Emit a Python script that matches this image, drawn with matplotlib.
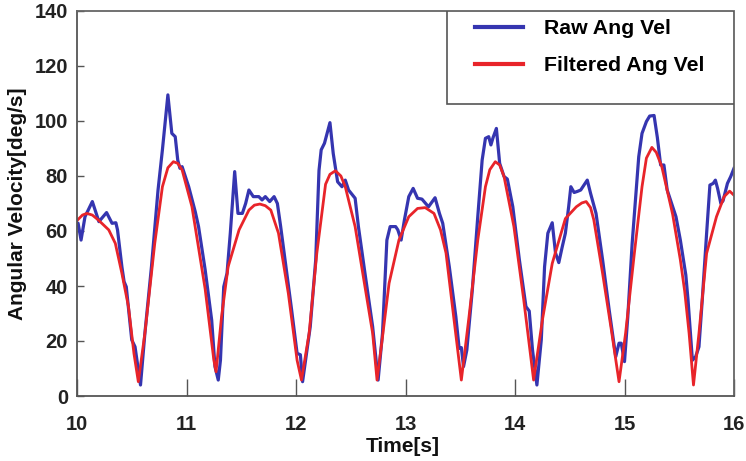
import matplotlib
matplotlib.use("Agg")
import matplotlib.pyplot as plt
from matplotlib.patches import Rectangle

# ---- data ----
raw_t = [10.00, 10.01, 10.037, 10.073, 10.14, 10.20, 10.27, 10.32, 10.355, 10.37,
         10.41, 10.43, 10.45, 10.50, 10.53, 10.58, 10.62, 10.68, 10.74, 10.78,
         10.83, 10.866, 10.897, 10.92, 10.94, 10.96, 11.02, 11.08, 11.11, 11.17,
         11.23, 11.26, 11.29, 11.31, 11.34, 11.37, 11.40, 11.44, 11.47, 11.51,
         11.54, 11.57, 11.61, 11.66, 11.69, 11.72, 11.76, 11.80, 11.83, 11.86,
         11.90, 11.96, 12.01, 12.04, 12.06, 12.10, 12.13, 12.18, 12.21, 12.23,
         12.26, 12.31, 12.34, 12.38, 12.42, 12.45, 12.48, 12.54, 12.57, 12.63,
         12.70, 12.75, 12.79, 12.83, 12.86, 12.91, 12.93, 12.96, 12.99, 13.03,
         13.07, 13.11, 13.15, 13.21, 13.27, 13.31, 13.34, 13.40, 13.46, 13.49,
         13.51, 13.53, 13.56, 13.61, 13.66, 13.70, 13.73, 13.76, 13.78, 13.80,
         13.83, 13.86, 13.90, 13.93, 13.98, 14.04, 14.10, 14.13, 14.16, 14.20,
         14.24, 14.27, 14.30, 14.34, 14.37, 14.40, 14.43, 14.46, 14.49, 14.51,
         14.54, 14.57, 14.60, 14.62, 14.66, 14.69, 14.74, 14.80, 14.86, 14.92,
         14.95, 14.97, 15.00, 15.03, 15.07, 15.13, 15.16, 15.20, 15.23, 15.27,
         15.30, 15.33, 15.36, 15.39, 15.44, 15.47, 15.51, 15.56, 15.58, 15.62,
         15.65, 15.68, 15.71, 15.75, 15.78, 15.81, 15.83, 15.85, 15.88, 15.90,
         15.94, 15.97, 16.00]
raw_v = [63.0, 62.8, 56.7, 65.2, 70.7, 63.4, 66.7, 62.8, 63.0, 60.4,
         47.0, 41.6, 39.7, 20.4, 17.9, 4.0, 22.8, 47.0, 74.9, 89.5,
         109.5, 95.5, 94.3, 85.8, 82.8, 83.4, 76.1, 67.0, 61.6, 46.0,
         27.6, 10.7, 5.8, 13.0, 39.7, 44.6, 59.2, 81.6, 66.4, 66.4,
         70.0, 74.9, 72.5, 72.5, 71.3, 72.5, 70.7, 72.5, 70.0, 61.6,
         49.5, 31.3, 15.5, 15.0, 5.2, 16.7, 25.2, 49.5, 82.0, 89.5,
         91.9, 99.4, 88.2, 77.9, 76.1, 78.5, 74.9, 71.9, 61.6, 44.6,
         25.2, 5.8, 22.8, 56.7, 61.6, 61.6, 60.4, 56.7, 64.0, 72.5,
         75.5, 71.9, 71.6, 68.8, 72.1, 66.4, 62.8, 47.0, 28.8, 17.3,
         17.6, 10.7, 16.7, 38.5, 65.2, 85.8, 93.7, 94.3, 91.3, 94.0,
         97.3, 84.6, 79.8, 78.9, 68.8, 49.5, 32.5, 30.9, 16.7, 4.0,
         20.4, 47.0, 59.2, 63.0, 52.0, 48.5, 54.0, 59.2, 68.8, 76.1,
         74.0, 74.4, 74.9, 76.1, 78.5, 73.7, 66.4, 49.5, 31.3, 14.3,
         19.2, 19.2, 12.5, 28.8, 55.5, 87.0, 95.5, 99.8, 101.8, 102.0,
         94.0, 84.0, 84.0, 74.9, 68.8, 65.2, 56.7, 44.0, 35.0, 13.0,
         14.3, 17.9, 34.9, 59.2, 76.7, 77.3, 78.5, 75.5, 70.0, 71.0,
         77.3, 79.8, 82.8]

filt_t = [10.00, 10.05, 10.09, 10.14, 10.195, 10.29, 10.35, 10.41, 10.47, 10.52,
          10.56, 10.62, 10.71, 10.78, 10.83, 10.88, 10.92, 10.96, 11.05, 11.17,
          11.25, 11.27, 11.32, 11.38, 11.48, 11.57, 11.62, 11.67, 11.72, 11.77,
          11.84, 11.93, 12.01, 12.05, 12.12, 12.19, 12.27, 12.31, 12.36, 12.41,
          12.45, 12.54, 12.63, 12.70, 12.74, 12.79, 12.85, 12.94, 13.03, 13.11,
          13.18, 13.26, 13.32, 13.37, 13.44, 13.51, 13.58, 13.66, 13.73, 13.77,
          13.82, 13.86, 13.90, 13.99, 14.08, 14.17, 14.25, 14.34, 14.46, 14.56,
          14.61, 14.65, 14.69, 14.72, 14.80, 14.88, 14.95, 15.01, 15.09, 15.16,
          15.20, 15.25, 15.29, 15.34, 15.44, 15.51, 15.55, 15.59, 15.63, 15.68,
          15.75, 15.84, 15.91, 15.96, 16.00]
filt_v = [63.8, 65.8, 66.4, 65.8, 64.0, 60.4, 55.5, 44.6, 32.5, 15.5,
          5.2, 22.8, 55.5, 76.1, 83.0, 85.2, 84.6, 82.2, 68.8, 39.0,
          13.0, 8.8, 28.8, 47.0, 60.4, 67.6, 69.4, 69.8, 69.2, 67.6,
          59.2, 37.3, 13.0, 5.8, 22.8, 51.9, 77.0, 80.6, 81.9, 80.0,
          76.1, 61.6, 39.7, 22.8, 5.8, 21.5, 41.0, 56.7, 65.2, 68.2,
          68.5, 66.4, 60.4, 52.0, 28.8, 5.8, 28.8, 56.7, 76.1, 82.3,
          85.2, 84.0, 79.8, 61.6, 34.9, 5.8, 27.6, 48.2, 64.5, 68.8,
          70.2, 70.7, 68.5, 64.0, 44.6, 24.0, 5.2, 22.8, 51.9, 76.1,
          86.5, 90.4, 88.6, 83.5, 66.0, 49.5, 38.0, 22.8, 4.0, 22.8,
          51.9, 65.2, 72.5, 74.5, 73.0]

x_ticks = [10, 11, 12, 13, 14, 15, 16]
y_ticks = [0, 20, 40, 60, 80, 100, 120, 140]
series_labels = ["Raw Ang Vel", "Filtered Ang Vel"]
x_label = "Time[s]"
y_label = "Angular Velocity[deg/s]"

# ---- figure ----
plt.rcParams['font.family'] = ['Liberation Sans', 'DejaVu Sans']
plt.rcParams['font.weight'] = 'bold'

W, H = 746, 461
fig = plt.figure(figsize=(W / 100, H / 100), dpi=100)
ax = fig.add_axes([77 / W, 1 - 396 / H, (734 - 77) / W, (396 - 11) / H])

blue = '#3535b0'
red = '#e8242a'
l1, = ax.plot(raw_t, raw_v, color=blue, lw=2.3, solid_joinstyle='round', label=series_labels[0])
l2, = ax.plot(filt_t, filt_v, color=red, lw=2.0, solid_joinstyle='round', label=series_labels[1])

ax.set_xlim(10, 16)
ax.set_ylim(0, 140)
ax.set_xticks(x_ticks)
ax.set_yticks(y_ticks)
ax.set_xticklabels([str(v) for v in x_ticks], fontsize=14.5, fontweight='bold', color='#222222')
ax.set_yticklabels([str(v) for v in y_ticks], fontsize=14.5, fontweight='bold', color='#222222')
ax.tick_params(axis='x', direction='in', length=12, width=1, color='#555555', pad=13.5)
ax.tick_params(axis='y', direction='in', length=5, width=1, color='#555555', pad=6.5)

for s in ['left', 'bottom']:
    ax.spines[s].set_color('#555555')
    ax.spines[s].set_linewidth(1.3)
for s in ['top', 'right']:
    ax.spines[s].set_color('#666666')
    ax.spines[s].set_linewidth(1.3)
    ax.spines[s].set_linestyle((0, (3, 1)))

fig.text(403 / W, 1 - 446 / H, x_label, ha='center', va='center', fontsize=15, fontweight='bold', color='#111111')
fig.text(18 / W, 1 - 204 / H, y_label, ha='center', va='center', rotation=90, fontsize=15, fontweight='bold', color='#111111')

# legend box
box_x0 = (447 - 77) / (734 - 77)
box_y0 = (396 - 104) / (396 - 11)
ax.add_patch(Rectangle((box_x0, box_y0), 1 - box_x0, 1 - box_y0, transform=ax.transAxes,
                       facecolor='white', edgecolor='#555555', lw=1.2, zorder=5))
leg = ax.legend(handles=[l1, l2], loc='upper left',
                bbox_to_anchor=((475 - 77) / 657, (396 - 19) / 385),
                frameon=False, borderpad=0, borderaxespad=0,
                handlelength=2.25, handletextpad=1.0, labelspacing=0.85,
                prop={'family': 'Liberation Sans', 'weight': 'bold', 'size': 15.3})
leg.set_zorder(6)
for h in leg.get_lines():
    h.set_linewidth(3)

fig.savefig('out.png', dpi=100)
